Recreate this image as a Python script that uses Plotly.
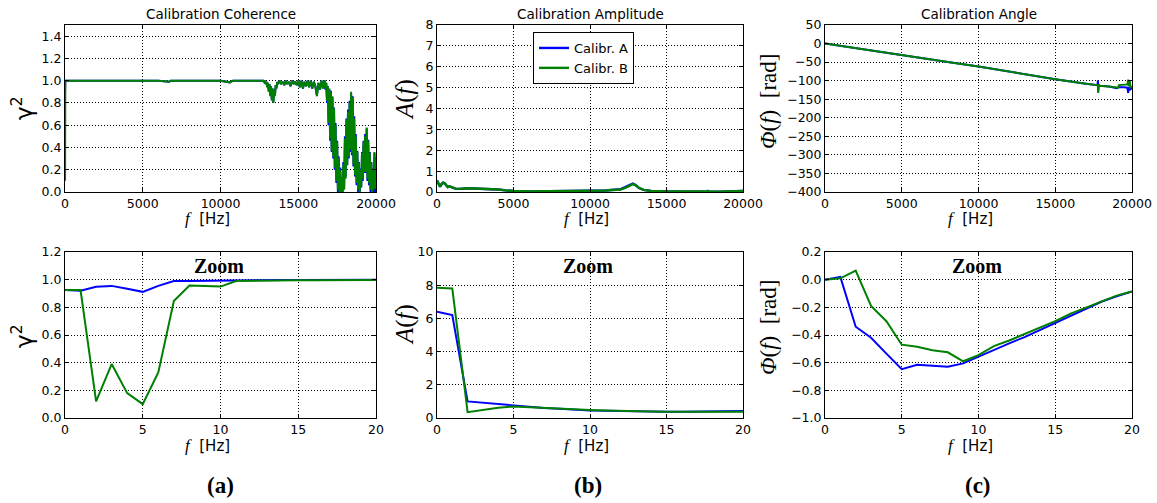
import plotly.graph_objects as go

W, H = 1157, 503
BLUE = "#0000ff"
GREEN = "#008000"

# ---------------- data ----------------
coh_top_f = [0, 2, 5, 8, 10, 20, 1000, 2000, 3000, 4000, 5000, 6000, 6700, 6800, 7000, 8000, 9000, 10000, 10600, 10800, 11000, 12000, 12700,
             12750, 12800, 12850, 12900, 12950, 13000, 13050, 13100, 13150, 13200, 13250, 13300, 13350, 13400, 13450, 13500, 13550, 13600, 13650, 13700,
             13800, 13900, 14000, 14100, 14200, 14300, 14400, 14500, 14600, 14700, 14800, 14900, 15000, 15100, 15200, 15300, 15400, 15500, 15600, 15700,
             15800, 15900, 16000, 16100, 16200, 16300, 16400, 16500, 16600, 16650,
             16700, 16750, 16800, 16850, 16900, 16950, 17000, 17050, 17100, 17150, 17200, 17250, 17300, 17350, 17400, 17450, 17500, 17550, 17600, 17650,
             17700, 17750, 17800, 17850, 17900, 17950, 18000, 18050, 18100, 18150, 18200, 18250, 18300, 18350, 18400, 18450, 18500, 18550, 18600, 18650,
             18700, 18750, 18800, 18850, 18900, 18950, 19000, 19050, 19100, 19150, 19200, 19250, 19300, 19350, 19400, 19450, 19500, 19550, 19600, 19650,
             19700, 19750, 19800, 19850, 19900, 19950, 20000]
coh_top_B = [0.925, 0.12, 0.10, 0.957, 0.95, 1.0, 1.0, 1.0, 1.0, 1.0, 1.0, 1.0, 0.99, 1.0, 1.0, 1.0, 1.0, 1.0, 0.985, 1.0, 1.0, 1.0, 1.0,
             1.0, 0.99, 1.0, 0.97, 0.99, 0.94, 0.98, 0.90, 0.97, 0.86, 0.95, 0.82, 0.93, 0.80, 0.92, 0.86, 0.96, 0.93, 0.99, 0.97,
             1.0, 0.97, 0.99, 0.96, 1.0, 0.97, 0.99, 0.95, 1.0, 0.97, 0.99, 0.96, 1.0, 0.94, 1.0, 0.93, 0.99, 0.95, 1.0, 0.94,
             1.0, 0.93, 0.99, 0.95, 0.86, 0.98, 0.92, 1.0, 0.93, 0.99,
             1.0, 0.93, 0.98, 0.82, 0.95, 0.62, 0.93, 0.48, 0.90, 0.37, 0.86, 0.32, 0.75, 0.22, 0.60, 0.10, 0.45, 0.02, 0.30, 0.0,
             0.20, 0.0, 0.12, 0.0, 0.25, 0.02, 0.48, 0.12, 0.65, 0.25, 0.72, 0.32, 0.80, 0.38, 0.90, 0.35, 0.85, 0.25, 0.66, 0.15,
             0.50, 0.08, 0.36, 0.02, 0.26, 0.0, 0.20, 0.05, 0.35, 0.12, 0.45, 0.18, 0.50, 0.18, 0.58, 0.12, 0.46, 0.08, 0.35, 0.02,
             0.26, 0.0, 0.20, 0.02, 0.36, 0.03, 0.30]
coh_top_A = [0.925, 0.948, 0.912, 0.99, 0.995, 1.0, 1.0, 1.0, 1.0, 1.0, 1.0, 1.0, 0.99, 1.0, 1.0, 1.0, 1.0, 1.0, 0.985, 1.0, 1.0, 1.0, 1.0,
             1.0, 0.99, 1.0, 0.97, 0.99, 0.95, 0.98, 0.91, 0.97, 0.87, 0.95, 0.83, 0.93, 0.81, 0.92, 0.87, 0.96, 0.93, 0.99, 0.97,
             1.0, 0.97, 0.99, 0.96, 1.0, 0.97, 0.99, 0.95, 1.0, 0.97, 0.99, 0.96, 1.0, 0.94, 1.0, 0.93, 0.99, 0.95, 1.0, 0.94,
             1.0, 0.93, 0.99, 0.95, 0.87, 0.98, 0.92, 1.0, 0.93, 0.99,
             1.0, 0.92, 0.98, 0.80, 0.95, 0.60, 0.92, 0.46, 0.91, 0.36, 0.85, 0.30, 0.76, 0.20, 0.62, 0.08, 0.46, 0.0, 0.32, 0.0,
             0.22, 0.0, 0.13, 0.0, 0.27, 0.03, 0.50, 0.14, 0.66, 0.24, 0.74, 0.30, 0.82, 0.36, 0.88, 0.33, 0.86, 0.23, 0.68, 0.14,
             0.52, 0.06, 0.37, 0.0, 0.27, 0.0, 0.21, 0.04, 0.36, 0.10, 0.46, 0.17, 0.52, 0.17, 0.57, 0.10, 0.47, 0.06, 0.36, 0.0,
             0.27, 0.0, 0.21, 0.0, 0.35, 0.0, 0.31]

amp_top_f = [0, 100, 200, 300, 400, 500, 600, 700, 800, 900, 1000, 1200, 1500, 2000, 2500, 3000, 3500, 4000, 4500, 5000,
             6000, 7000, 8000, 9000, 10000, 11000, 11500, 12000, 12300, 12600, 12800, 13000, 13200, 13500, 14000, 15000, 16000, 17000, 17600, 17700,
             17800, 18500, 19500, 20000]
amp_top_B = [0.55, 0.35, 0.25, 0.38, 0.45, 0.42, 0.30, 0.24, 0.27, 0.26, 0.22, 0.16, 0.15, 0.18, 0.17, 0.16, 0.14, 0.12, 0.08, 0.05,
             0.03, 0.03, 0.04, 0.05, 0.06, 0.07, 0.08, 0.12, 0.20, 0.30, 0.38, 0.32, 0.20, 0.10, 0.05, 0.03, 0.02, 0.02, 0.03, 0.06,
             0.01, 0.01, 0.02, 0.05]
amp_top_A = [0.55, 0.35, 0.25, 0.38, 0.45, 0.42, 0.30, 0.24, 0.27, 0.26, 0.22, 0.16, 0.15, 0.18, 0.17, 0.16, 0.14, 0.12, 0.08, 0.05,
             0.03, 0.03, 0.04, 0.05, 0.06, 0.07, 0.09, 0.14, 0.23, 0.33, 0.40, 0.32, 0.19, 0.10, 0.05, 0.03, 0.02, 0.02, 0.02, 0.04,
             0.01, 0.01, 0.02, 0.05]

phase_top_f_A = [0, 2000, 5000, 8000, 10000, 12000, 13000, 15000, 17000, 17750, 17780, 17800, 17830, 17900, 18500, 19000, 19100, 19500,
                 19700, 19750, 19800, 19850, 19900, 20000]
phase_top_A = [0, -13, -32, -50, -62, -76, -84, -96, -108, -112, -99, -127, -112, -114, -116, -120, -118, -118,
               -119, -133, -117, -126, -121, -123]
phase_top_f_B = [0, 2000, 5000, 8000, 10000, 12000, 13000, 15000, 17000, 17750, 17780, 17800, 17830, 17900, 18500, 19000, 19100, 19150,
                 19500, 19700, 19750, 19800, 19850, 19900, 20000]
phase_top_B = [0, -13, -32, -50, -62, -76, -84, -96, -108, -112, -116, -133, -110, -114, -116, -120, -119, -112,
               -111, -110, -97, -115, -100, -118, -116]

zoom_f = [0, 1, 2, 3, 4, 5, 6, 7, 8, 9, 10, 11, 12, 13, 14, 15, 16, 17, 18, 19, 20]
coh_zoom_A = [0.925, 0.92, 0.948, 0.955, 0.935, 0.912, 0.955, 0.99, 0.99, 0.992, 0.995, 0.995, 0.996, 0.997, 0.998, 0.998, 0.998, 0.999, 0.999, 0.999, 1.0]
coh_zoom_B = [0.925, 0.925, 0.12, 0.39, 0.18, 0.10, 0.33, 0.845, 0.957, 0.955, 0.95, 0.99, 0.99, 0.992, 0.993, 0.995, 0.996, 0.997, 0.998, 0.998, 0.998]
amp_zoom_A = [6.4, 6.2, 1.0, 0.92, 0.84, 0.75, 0.66, 0.60, 0.55, 0.48, 0.45, 0.43, 0.41, 0.40, 0.39, 0.38, 0.38, 0.38, 0.39, 0.40, 0.42]
amp_zoom_B = [7.85, 7.8, 0.35, 0.50, 0.62, 0.70, 0.65, 0.60, 0.56, 0.52, 0.48, 0.45, 0.42, 0.40, 0.39, 0.38, 0.37, 0.37, 0.37, 0.37, 0.38]
phase_zoom_A = [0.0, 0.02, -0.34, -0.42, -0.535, -0.647, -0.615, -0.62, -0.63, -0.605, -0.555, -0.51, -0.46, -0.415, -0.365, -0.315, -0.26, -0.21, -0.16, -0.12, -0.085]
phase_zoom_B = [0.0, 0.01, 0.065, -0.19, -0.30, -0.47, -0.485, -0.51, -0.525, -0.59, -0.545, -0.48, -0.44, -0.395, -0.345, -0.30, -0.245, -0.20, -0.155, -0.115, -0.085]

series_names = ["Calibr. A", "Calibr. B"]
titles = ["Calibration Coherence", "Calibration Amplitude", "Calibration Angle"]
panel_labels = ["(a)", "(b)", "(c)"]

# ---------------- layout helpers ----------------
def px(x):
    return x / W

def py(y):
    return 1 - y / H

cols = [(65, 376), (437, 743), (825, 1132)]
rows = [(25, 192), (252, 418)]

fig = go.Figure()

panels = [
    (0, 0, coh_top_f, coh_top_A, coh_top_f, coh_top_B),
    (0, 1, amp_top_f, amp_top_A, amp_top_f, amp_top_B),
    (0, 2, phase_top_f_A, phase_top_A, phase_top_f_B, phase_top_B),
    (1, 0, zoom_f, coh_zoom_A, zoom_f, coh_zoom_B),
    (1, 1, zoom_f, amp_zoom_A, zoom_f, amp_zoom_B),
    (1, 2, zoom_f, phase_zoom_A, zoom_f, phase_zoom_B),
]

yranges = {(0, 0): ([0, 1.5], 0.2, ".1f"), (0, 1): ([0, 8], 1, "d"), (0, 2): ([-400, 50], 50, "d"),
           (1, 0): ([0, 1.2], 0.2, ".1f"), (1, 1): ([0, 10], 2, "d"), (1, 2): ([-1.0, 0.2], 0.2, ".1f")}

tickfont = dict(family="DejaVu Sans", size=12.5, color="black")
common = dict(showline=True, linecolor="black", linewidth=1, mirror="ticks", ticks="inside", ticklen=4,
              tickcolor="black", showgrid=True, gridcolor="black", griddash="1px,2px", gridwidth=1,
              zeroline=False, tickfont=tickfont, fixedrange=True, automargin=False)

layout_axes = {}
for i, (r, c, xa, ya, xb, yb) in enumerate(panels):
    n = i + 1
    xname = "x" if n == 1 else f"x{n}"
    yname = "y" if n == 1 else f"y{n}"
    show = (r == 0 and c == 1)
    lw = 2.4 if (r == 0 and c == 1) else 2
    fig.add_trace(go.Scatter(x=xa, y=ya, mode="lines", line=dict(color=BLUE, width=lw),
                             name=series_names[0], showlegend=show, xaxis=xname, yaxis=yname))
    fig.add_trace(go.Scatter(x=xb, y=yb, mode="lines", line=dict(color=GREEN, width=lw),
                             name=series_names[1], showlegend=show, xaxis=xname, yaxis=yname))
    x0, x1 = cols[c]
    y0, y1 = rows[r]
    if r == 0:
        xr, xd = [0, 20000], 5000
    else:
        xr, xd = [0, 20], 5
    yr, yd, yf = yranges[(r, c)]
    layout_axes["xaxis" if n == 1 else f"xaxis{n}"] = dict(common, domain=[px(x0), px(x1)], range=xr, dtick=xd,
                                                          tick0=0, tickformat="d", anchor=yname)
    layout_axes["yaxis" if n == 1 else f"yaxis{n}"] = dict(common, domain=[py(y1), py(y0)], range=yr, dtick=yd,
                                                          tick0=0, tickformat=yf, anchor=xname)

fig.update_layout(**layout_axes)

ann = []
for c, t in enumerate(titles):
    x0, x1 = cols[c]
    ann.append(dict(text=t, x=px((x0 + x1) / 2), y=py(14), xref="paper", yref="paper", showarrow=False,
                    xanchor="center", yanchor="middle", font=dict(family="DejaVu Sans", size=13.5, color="black")))
for c in range(3):
    x0, x1 = cols[c]
    ann.append(dict(text="<b>Zoom</b>", x=px((x0 + x1) / 2 - 2), y=py(266), xref="paper", yref="paper",
                    showarrow=False, xanchor="center", yanchor="middle",
                    font=dict(family="Liberation Serif", size=20, color="black")))
for c, (t, xc) in enumerate(zip(panel_labels, [220, 588, 978])):
    ann.append(dict(text=f"<b>{t}</b>", x=px(xc), y=py(485), xref="paper", yref="paper", showarrow=False,
                    xanchor="center", yanchor="middle", font=dict(family="Liberation Serif", size=23, color="black")))
xlab = "<span style='font-family:Liberation Serif;font-size:17px'><i>f</i></span>\u00a0\u00a0[Hz]"
for r, yc in enumerate([218, 445]):
    for xc in [207, 586, 970]:
        ann.append(dict(text=xlab, x=px(xc), y=py(yc), xref="paper", yref="paper", showarrow=False,
                        xanchor="center", yanchor="middle", font=dict(family="DejaVu Sans", size=15, color="black")))
ylabs = [("γ<sup>2</sup>", 22, "DejaVu Sans", 23),
         ("<i>A</i>(<i>f</i>)", 405, "Liberation Serif", 25),
         ("<i>Φ</i>(<i>f</i>)\u00a0\u00a0[rad]", 768, "Liberation Serif", 23)]
for r, yc in enumerate([[108, 100, 102], [336, 325, 328]]):
    for c, (t, xc, fam, sz) in enumerate(ylabs):
        ann.append(dict(text=t, x=px(xc), y=py(yc[c]), xref="paper", yref="paper", showarrow=False,
                        xanchor="center", yanchor="middle", textangle=-90,
                        font=dict(family=fam, size=sz, color="black")))

fig.update_layout(
    width=W, height=H, margin=dict(l=0, r=0, t=0, b=0, autoexpand=False),
    paper_bgcolor="white", plot_bgcolor="white",
    annotations=ann,
    legend=dict(x=px(533), y=py(32), xanchor="left", yanchor="top", bgcolor="white",
                bordercolor="black", borderwidth=1, font=dict(family="DejaVu Sans", size=13, color="black"),
                tracegroupgap=0, itemwidth=30),
)

fig.write_html("out.html", config={"displayModeBar": False},
               post_script="document.body.style.margin='0';document.body.style.overflow='hidden';")
